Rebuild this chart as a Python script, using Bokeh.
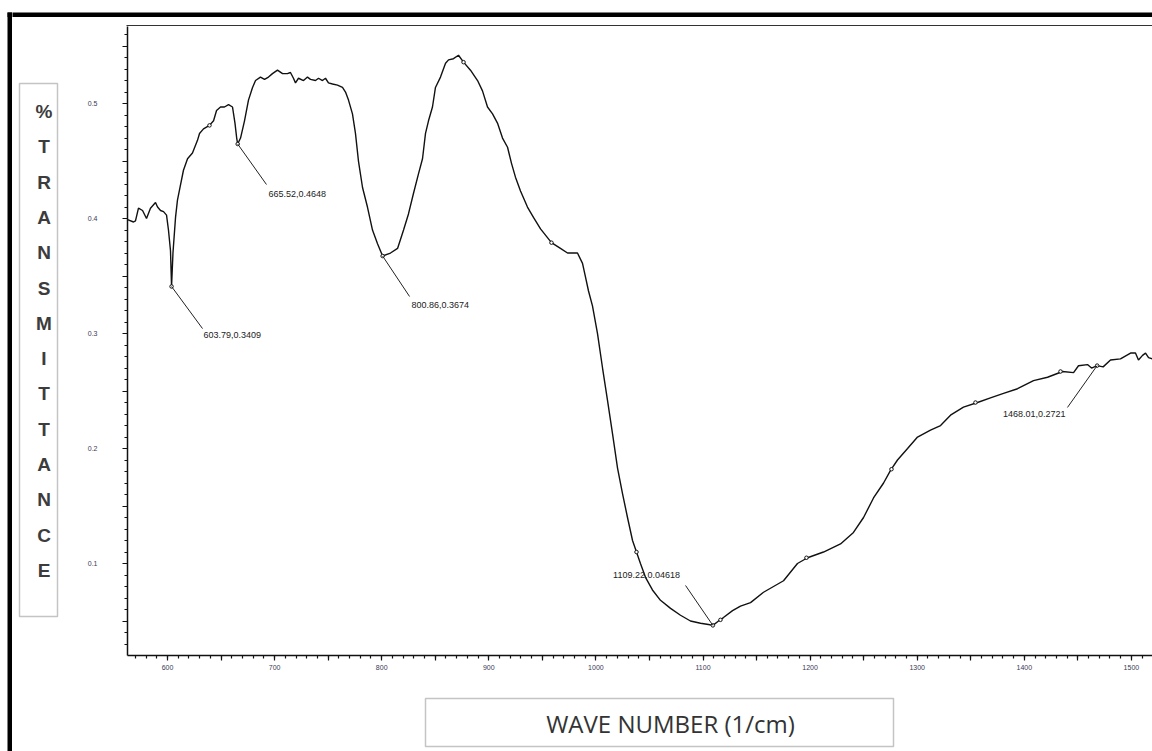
from bokeh.plotting import figure
from bokeh.layouts import column, row
from bokeh.models import Label, FixedTicker, CustomJSTickFormatter, Range1d
from bokeh.embed import file_html
from bokeh.resources import INLINE

# ---------------- data ----------------
wavenumber = [
    562.7, 568.3, 570.1, 572.9, 576.7, 580.4, 584.1, 588.8, 590.7, 593.5, 596.3, 599.1,
    600.9, 602.8, 603.79, 605.1, 607.5, 609.3, 612.1, 614.9, 618.7, 623.3, 628.0, 629.9,
    633.6, 639.2, 643.0, 645.8, 649.5, 653.2, 657.0, 660.7, 663.0, 664.6, 665.52, 668.2,
    671.9, 675.6, 679.4, 682.2, 686.8, 690.6, 694.3, 698.0, 702.7, 707.4, 712.0, 714.8,
    717.6, 719.5, 722.3, 727.0, 730.7, 733.5, 738.2, 741.0, 744.7, 747.5, 750.3, 754.1,
    758.7, 763.4, 766.2, 769.0, 772.7, 775.5, 778.3, 782.1, 786.7, 791.4, 796.1, 800.86,
    808.2, 814.8, 820.4, 825.0, 829.7, 834.4, 838.1, 840.9, 843.7, 847.4, 850.2, 854.9,
    859.6, 862.4, 867.0, 871.7, 876.4, 882.9, 889.5, 894.1, 898.8, 903.5, 908.1, 912.8,
    917.5, 921.2, 924.9, 929.6, 936.1, 941.7, 948.3, 958.5, 966.9, 973.5, 982.8, 987.5,
    990.3, 993.1, 996.8, 1001.5, 1006.2, 1010.8, 1015.5, 1020.2, 1024.8, 1029.5, 1034.2,
    1037.9, 1041.6, 1046.3, 1052.8, 1060.3, 1069.7, 1079.0, 1088.3, 1097.7, 1105.1,
    1109.22, 1114.5, 1119.1, 1127.6, 1135.0, 1144.4, 1156.5, 1175.2, 1188.2, 1197.6,
    1212.5, 1228.4, 1240.5, 1249.9, 1259.2, 1268.6, 1275.1, 1281.6, 1291.0, 1300.3,
    1312.4, 1321.8, 1331.1, 1343.2, 1356.3, 1368.4, 1380.6, 1393.7, 1408.6, 1421.7,
    1435.7, 1446.0, 1450.6, 1459.0, 1462.8, 1468.01, 1473.6, 1480.5, 1489.8, 1499.2,
    1503.8, 1506.6, 1510.4, 1513.2, 1516.0, 1519.7,
]
transmittance = [
    0.399, 0.397, 0.398, 0.409, 0.407, 0.400, 0.409, 0.414, 0.410, 0.407, 0.406, 0.403,
    0.390, 0.372, 0.3409, 0.370, 0.401, 0.416, 0.429, 0.442, 0.452, 0.457, 0.468, 0.474,
    0.478, 0.481, 0.485, 0.494, 0.497, 0.497, 0.499, 0.497, 0.483, 0.470, 0.4648, 0.470,
    0.485, 0.503, 0.514, 0.520, 0.523, 0.521, 0.523, 0.526, 0.529, 0.526, 0.526, 0.527,
    0.522, 0.518, 0.522, 0.520, 0.523, 0.521, 0.520, 0.522, 0.520, 0.522, 0.518, 0.517,
    0.516, 0.514, 0.510, 0.503, 0.491, 0.474, 0.450, 0.427, 0.410, 0.390, 0.378, 0.3674,
    0.370, 0.374, 0.390, 0.404, 0.422, 0.439, 0.452, 0.474, 0.485, 0.497, 0.514, 0.523,
    0.535, 0.538, 0.539, 0.542, 0.536, 0.529, 0.520, 0.511, 0.497, 0.491, 0.483, 0.470,
    0.462, 0.448, 0.436, 0.424, 0.410, 0.401, 0.391, 0.379, 0.374, 0.370, 0.370, 0.361,
    0.349, 0.337, 0.324, 0.300, 0.270, 0.242, 0.213, 0.183, 0.161, 0.140, 0.120,
    0.110, 0.100, 0.088, 0.077, 0.068, 0.061, 0.055, 0.050, 0.048, 0.047,
    0.04618, 0.050, 0.053, 0.059, 0.063, 0.066, 0.075, 0.085, 0.100, 0.105,
    0.110, 0.117, 0.127, 0.140, 0.157, 0.170, 0.181, 0.190, 0.200, 0.210,
    0.216, 0.220, 0.229, 0.236, 0.240, 0.244, 0.248, 0.252, 0.259, 0.262,
    0.267, 0.266, 0.272, 0.273, 0.270, 0.2721, 0.271, 0.277, 0.278, 0.283,
    0.283, 0.277, 0.281, 0.283, 0.279, 0.278,
]

peak_wn = [603.79, 665.52, 800.86, 1109.22, 1468.01]
peak_t = [0.3409, 0.4648, 0.3674, 0.04618, 0.2721]
peak_text = ["603.79,0.3409", "665.52,0.4648", "800.86,0.3674", "1109.22,0.04618", "1468.01,0.2721"]

mark_wn = [639.2, 876.4, 958.5, 1037.9, 1116.3, 1196.6, 1276.0, 1354.4, 1433.8]
mark_t = [0.481, 0.536, 0.379, 0.110, 0.051, 0.105, 0.182, 0.240, 0.267]

x_ticks = list(range(600, 1501, 50))
y_ticks = [0.05, 0.10, 0.15, 0.20, 0.25, 0.30, 0.35, 0.40, 0.45, 0.50, 0.55]
x_title = "WAVE NUMBER (1/cm)"
y_title = "%TRANSMITTANCE"

# ---------------- layout (positions / styles) ----------------
leader_wn = [632.7, 692.4, 826.0, 1083.7, 1440.3]
leader_t = [0.3043, 0.4296, 0.3322, 0.0809, 0.2357]
label_wn = [633.6, 694.3, 827.8, 1078.5, 1438.5]
label_t = [0.2983, 0.4217, 0.3252, 0.0896, 0.2304]
label_align = ["left", "left", "left", "right", "right"]

W, H = 1152, 751
BAR_W = 12            # strip holding the outer frame's left edge
TOP_H = 26            # strip above the plot frame
LEFT_W = 70           # x where the main figure starts
FRAME_H = 629         # plot frame height
AX_H = 25             # x axis strip under the frame
MAIN_H = FRAME_H + AX_H
BOT_H = H - TOP_H - MAIN_H
X0, X1 = 562.65, 1519.7
Y0, Y1 = 0.0200, 0.5670
FRAME = "black"


def panel(w, h, frame_h=None):
    fh = h if frame_h is None else frame_h
    f = figure(width=w, height=h, output_backend="svg", toolbar_location=None,
               x_range=Range1d(0, w), y_range=Range1d(fh, 0),
               x_axis_type=None, y_axis_type=None,
               min_border_left=0, min_border_right=0, min_border_top=0,
               min_border_bottom=h - fh)
    f.outline_line_color = None
    f.grid.visible = False
    f.background_fill_color = "white"
    f.border_fill_color = "white"
    return f


# ---- full-height strip: left edge of the outer frame
bar = panel(BAR_W, H)
bar.quad(left=[7], right=[12], top=[12], bottom=[H + 2], fill_color=FRAME, line_color=None)
bar.quad(left=[7], right=[12], top=[12], bottom=[16.5], fill_color=FRAME, line_color=None)

# ---- top strip: outer frame top edge + top line of plot frame
top = panel(W - BAR_W, TOP_H)
top.quad(left=[-2], right=[W], top=[12], bottom=[16.5], fill_color=FRAME, line_color=None)
top.segment(x0=[126 - BAR_W], y0=[25.3], x1=[W], y1=[25.3], line_color="#333333", line_width=1.5)

# ---- left panel: y title box (frame aligned with the plot frame)
left = panel(LEFT_W - BAR_W, MAIN_H, FRAME_H)
left.quad(left=[19 - BAR_W], right=[57 - BAR_W], top=[57], bottom=[590], fill_color=None,
          line_color="#c4c4c4", line_width=1.5)
for i, ch in enumerate(y_title):
    left.add_layout(Label(x=43.5 - BAR_W, y=85 + 35.3 * i, text=ch, text_align="center",
                          text_baseline="middle", text_font="Liberation Sans",
                          text_font_style="bold", text_font_size="19px",
                          text_color="#3c3c3c"))

# ---- main plot
p = figure(width=W - LEFT_W, height=MAIN_H, output_backend="svg", toolbar_location=None,
           x_range=Range1d(X0, X1), y_range=Range1d(Y0, Y1),
           min_border_left=127 - LEFT_W, min_border_top=0, min_border_right=0,
           min_border_bottom=AX_H)
p.title.visible = False
p.outline_line_color = None
p.xgrid.visible = False
p.ygrid.visible = False
p.background_fill_color = "white"
p.border_fill_color = "white"

for ax in (p.xaxis[0], p.yaxis[0]):
    ax.axis_line_color = "#111111"
    ax.axis_line_width = 1.5
    ax.major_tick_line_color = "#111111"
    ax.minor_tick_line_color = "#111111"
    ax.major_tick_line_width = 1.2
    ax.minor_tick_line_width = 1.2
    ax.major_tick_in = 0
    ax.minor_tick_in = 0
    ax.major_tick_out = 5
    ax.minor_tick_out = 3
    ax.major_label_text_font = "Liberation Sans"
    ax.major_label_text_font_size = "7px"
    ax.major_label_text_color = "#3a3a55"

p.xaxis[0].ticker = FixedTicker(ticks=x_ticks, minor_ticks=list(range(570, 1521, 10)))
p.xaxis[0].formatter = CustomJSTickFormatter(
    code="return (Math.round(tick) % 100 == 0) ? String(Math.round(tick)) : '';")
p.xaxis[0].major_label_standoff = 4

p.yaxis[0].ticker = FixedTicker(ticks=y_ticks, minor_ticks=[round(0.03 + 0.01 * i, 2) for i in range(54)])
p.yaxis[0].formatter = CustomJSTickFormatter(
    code="return (Math.round(tick * 100) % 10 == 0) ? tick.toFixed(1) : '';")
p.yaxis[0].major_label_standoff = 25

p.line(wavenumber, transmittance, line_color="#111111", line_width=1.4)
p.scatter(mark_wn, mark_t, marker="circle", size=3.5, fill_color="white",
          line_color="#111111", line_width=1)
p.scatter(peak_wn, peak_t, marker="circle", size=3.5, fill_color="white",
          line_color="#111111", line_width=1)
p.segment(x0=peak_wn, y0=peak_t, x1=leader_wn, y1=leader_t, line_color="#222222", line_width=1)
for wn, t, txt, al in zip(label_wn, label_t, peak_text, label_align):
    p.add_layout(Label(x=wn, y=t, text=txt, text_align=al, text_baseline="middle",
                       text_font="Liberation Sans", text_font_size="9px", text_color="#222222"))

# ---- bottom strip: x title box
bot = panel(W - BAR_W, BOT_H)
bot.quad(left=[425 - BAR_W], right=[893 - BAR_W], top=[18], bottom=[66], fill_color=None,
         line_color="#c4c4c4", line_width=1.5)
bot.add_layout(Label(x=670 - BAR_W, y=43, text=x_title, text_align="center",
                     text_baseline="middle", text_font="Open Sans", text_font_size="24px",
                     text_color="#333333"))

layout = row(bar, column(top, row(left, p, spacing=0), bot, spacing=0), spacing=0)
open("out.html", "w").write(file_html(layout, INLINE))
